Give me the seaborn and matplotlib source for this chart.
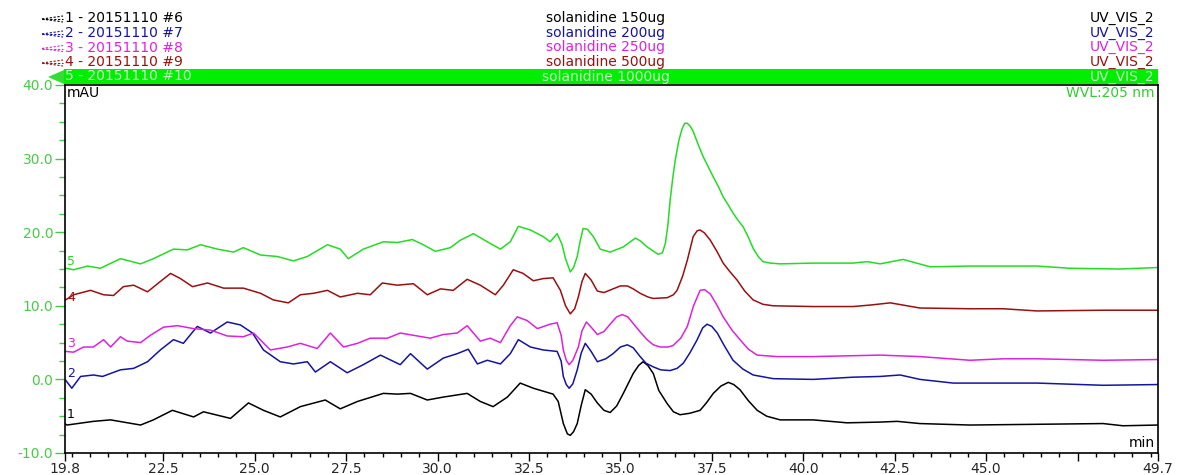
import numpy as np
import pandas as pd
import matplotlib
matplotlib.use("Agg")
import matplotlib.pyplot as plt
from matplotlib.lines import Line2D
from matplotlib.patches import Rectangle, Polygon
import seaborn as sns

# ---------------- data ----------------
t1 = [19.80, 19.87, 20.59, 21.06, 21.88, 22.23, 22.75, 23.33, 23.60, 24.34, 24.83, 25.24, 25.70,
      26.25, 26.93, 27.34, 27.81, 28.52, 28.90, 29.26, 29.72, 30.16, 30.81, 31.17, 31.52, 31.91,
      32.26, 32.62, 33.16, 33.30, 33.44, 33.55, 33.63, 33.72, 33.82, 33.93, 34.04, 34.20, 34.37,
      34.55, 34.72, 34.90, 35.08, 35.22, 35.35, 35.50, 35.62, 35.75, 35.90, 36.05, 36.28, 36.45,
      36.63, 36.90, 37.18, 37.35, 37.54, 37.75, 37.95, 38.10, 38.27, 38.50, 38.74, 39.00, 39.37,
      40.27, 41.20, 42.10, 42.57, 43.19, 44.56, 46.39, 48.20, 48.74, 49.70]
v1 = [-6.0, -6.2, -5.7, -5.5, -6.2, -5.5, -4.2, -5.1, -4.4, -5.3, -3.2, -4.2, -5.1,
      -3.7, -2.8, -4.0, -3.0, -1.9, -2.0, -1.9, -2.8, -2.4, -1.9, -3.0, -3.7, -2.4,
      -0.5, -1.2, -2.0, -3.0, -6.0, -7.4, -7.6, -7.1, -6.0, -3.5, -1.4, -2.0, -3.2,
      -4.2, -4.5, -3.6, -1.9, -0.5, 0.8, 1.9, 2.4, 1.9, 0.8, -1.5, -3.3, -4.4,
      -4.8, -4.6, -4.2, -3.2, -1.9, -0.9, -0.4, -0.7, -1.4, -2.9, -4.2, -5.0, -5.5,
      -5.5, -5.9, -5.8, -5.7, -6.0, -6.2, -6.1, -6.0, -6.3, -6.2]

t2 = [19.83, 20.00, 20.24, 20.59, 20.84, 21.33, 21.69, 22.07, 22.42, 22.78, 23.05, 23.43, 23.79,
      24.25, 24.61, 24.94, 25.24, 25.70, 26.06, 26.44, 26.66, 27.07, 27.53, 27.97, 28.44, 28.98,
      29.26, 29.72, 30.16, 30.54, 30.84, 31.09, 31.36, 31.72, 31.99, 32.21, 32.54, 32.89, 33.27,
      33.38, 33.44, 33.52, 33.60, 33.70, 33.82, 33.93, 34.04, 34.20, 34.37, 34.60, 34.80, 35.00,
      35.19, 35.35, 35.54, 35.70, 35.90, 36.10, 36.36, 36.55, 36.72, 36.90, 37.10, 37.25, 37.37,
      37.50, 37.65, 37.85, 38.08, 38.35, 38.63, 39.18, 40.27, 41.36, 42.10, 42.65, 43.19, 44.10,
      46.39, 48.20, 49.70]
v2 = [-0.1, -1.2, 0.4, 0.6, 0.4, 1.3, 1.5, 2.4, 4.0, 5.4, 4.9, 7.2, 6.3,
      7.8, 7.4, 6.3, 4.0, 2.4, 2.1, 2.4, 1.0, 2.4, 0.9, 2.0, 3.3, 2.0,
      3.5, 1.4, 2.9, 3.5, 4.1, 2.1, 2.6, 2.1, 3.5, 5.4, 4.4, 4.0, 3.8,
      2.5, 0.4, -0.7, -1.2, -0.6, 1.3, 3.6, 4.9, 3.8, 2.4, 2.8, 3.5, 4.4,
      4.7, 4.3, 3.1, 2.2, 1.7, 1.3, 1.2, 1.5, 2.2, 3.6, 5.4, 7.0, 7.5,
      7.2, 6.3, 4.5, 2.6, 1.4, 0.6, 0.1, 0.0, 0.3, 0.4, 0.6, 0.0, -0.5,
      -0.5, -0.8, -0.7]

t3 = [19.83, 20.05, 20.32, 20.59, 20.87, 21.06, 21.33, 21.52, 21.88, 22.15, 22.51, 22.89, 23.33,
      23.79, 24.25, 24.69, 24.97, 25.43, 25.89, 26.25, 26.71, 27.07, 27.43, 27.81, 28.16, 28.63,
      28.98, 29.45, 29.80, 30.16, 30.54, 30.81, 31.17, 31.44, 31.72, 31.99, 32.18, 32.45, 32.73,
      33.08, 33.27, 33.38, 33.44, 33.52, 33.60, 33.70, 33.85, 33.95, 34.07, 34.20, 34.37, 34.55,
      34.72, 34.90, 35.05, 35.20, 35.35, 35.55, 35.73, 35.90, 36.09, 36.30, 36.44, 36.65, 36.83,
      37.00, 37.18, 37.30, 37.46, 37.65, 37.81, 38.05, 38.27, 38.50, 38.74, 39.29, 40.27, 42.10,
      43.19, 44.56, 45.46, 46.39, 48.20, 49.70]
v3 = [3.8, 3.7, 4.4, 4.4, 5.4, 4.4, 5.8, 5.2, 5.0, 6.0, 7.1, 7.3, 6.9,
      6.7, 5.9, 5.8, 6.3, 4.0, 4.4, 4.9, 4.2, 6.3, 4.4, 4.9, 5.6, 5.6,
      6.3, 5.9, 5.6, 6.1, 6.3, 7.3, 5.2, 5.6, 5.0, 7.3, 8.5, 8.0, 6.9,
      7.5, 7.7, 6.0, 4.0, 2.6, 2.0, 2.6, 4.4, 6.6, 7.8, 7.1, 6.1, 6.5,
      7.5, 8.5, 8.8, 8.5, 7.6, 6.4, 5.4, 4.7, 4.4, 4.4, 4.6, 5.6, 7.2,
      10.0, 12.1, 12.2, 11.6, 10.0, 8.5, 6.7, 5.4, 4.1, 3.3, 3.1, 3.1, 3.3,
      3.1, 2.6, 2.8, 2.8, 2.6, 2.7]

t4 = [19.83, 20.05, 20.51, 20.87, 21.14, 21.41, 21.69, 22.07, 22.42, 22.70, 22.97, 23.30, 23.71,
      24.15, 24.69, 25.16, 25.51, 25.92, 26.25, 26.61, 26.99, 27.34, 27.81, 28.16, 28.49, 28.90,
      29.34, 29.72, 30.08, 30.43, 30.81, 31.17, 31.58, 31.80, 32.07, 32.34, 32.62, 32.89, 33.16,
      33.36, 33.50, 33.63, 33.75, 33.85, 33.95, 34.04, 34.20, 34.37, 34.55, 34.80, 35.00, 35.19,
      35.35, 35.54, 35.75, 35.90, 36.28, 36.45, 36.55, 36.70, 36.83, 36.99, 37.10, 37.18, 37.30,
      37.46, 37.65, 37.81, 38.00, 38.19, 38.40, 38.63, 38.90, 39.18, 40.27, 41.36, 41.83, 42.38,
      43.19, 44.56, 45.46, 46.39, 48.20, 49.70]
v4 = [10.8, 11.5, 12.1, 11.5, 11.4, 12.6, 12.8, 11.9, 13.3, 14.4, 13.7, 12.6, 13.1,
      12.4, 12.4, 11.7, 10.8, 10.4, 11.5, 11.7, 12.1, 11.2, 11.7, 11.5, 13.1, 12.8,
      13.0, 11.5, 12.3, 12.1, 13.6, 12.8, 11.5, 12.8, 14.9, 14.4, 13.4, 13.7, 13.8,
      12.1, 10.0, 8.9, 9.6, 11.2, 13.3, 14.4, 13.5, 12.0, 11.8, 12.3, 12.7, 12.7,
      12.3, 11.7, 11.2, 11.0, 11.1, 11.5, 12.1, 14.0, 16.2, 19.4, 20.2, 20.3, 19.9,
      18.9, 17.3, 15.8, 14.6, 13.5, 12.0, 10.8, 10.2, 10.0, 9.9, 9.9, 10.1, 10.4,
      9.7, 9.6, 9.6, 9.3, 9.4, 9.4]

t5 = [19.83, 20.05, 20.43, 20.78, 21.33, 21.88, 22.23, 22.78, 23.16, 23.52, 23.98, 24.42, 24.69,
      25.16, 25.62, 26.06, 26.44, 26.99, 27.34, 27.56, 27.97, 28.52, 28.90, 29.31, 29.61, 29.94,
      30.35, 30.62, 30.98, 31.36, 31.72, 31.99, 32.21, 32.54, 32.89, 33.08, 33.27, 33.40, 33.50,
      33.63, 33.72, 33.82, 33.90, 33.98, 34.10, 34.26, 34.45, 34.72, 35.08, 35.41, 35.55, 35.73,
      36.03, 36.15, 36.23, 36.30, 36.36, 36.43, 36.50, 36.60, 36.69, 36.76, 36.83, 36.91, 36.99,
      37.12, 37.26, 37.40, 37.54, 37.68, 37.81, 37.95, 38.08, 38.22, 38.36, 38.50, 38.63, 38.77,
      38.90, 39.10, 39.37, 40.27, 41.36, 41.75, 42.10, 42.73, 43.47, 44.56, 46.39, 47.29, 48.66,
      49.70]
v5 = [15.1, 14.9, 15.4, 15.1, 16.4, 15.7, 16.4, 17.7, 17.6, 18.3, 17.7, 17.3, 17.9,
      16.9, 16.7, 16.1, 16.7, 18.3, 17.7, 16.4, 17.7, 18.7, 18.6, 19.0, 18.3, 17.4,
      17.9, 18.9, 19.8, 18.7, 17.7, 18.7, 20.8, 20.3, 19.4, 18.7, 19.8, 18.4, 16.4,
      14.6, 15.2, 16.7, 18.8, 20.5, 20.4, 19.4, 17.7, 17.3, 18.0, 19.2, 18.8, 18.0,
      17.0, 17.2, 18.5, 21.0, 24.3, 27.3, 29.8, 32.5, 34.1, 34.8, 34.8, 34.4, 33.7,
      32.0, 30.3, 28.9, 27.5, 26.2, 24.8, 23.7, 22.6, 21.6, 20.7, 19.3, 17.8, 16.7,
      16.0, 15.8, 15.7, 15.8, 15.8, 16.0, 15.7, 16.3, 15.3, 15.4, 15.4, 15.1, 15.0,
      15.2]

trace_ids = ["1", "2", "3", "4", "5"]
runs = ["20151110 #6", "20151110 #7", "20151110 #8", "20151110 #9", "20151110 #10"]
samples = ["solanidine 150ug", "solanidine 200ug", "solanidine 250ug",
           "solanidine 500ug", "solanidine 1000ug"]
channel = "UV_VIS_2"
label_y = [-4.8, 0.8, 4.9, 11.1, 16.0]

xtick_vals = [19.8, 22.5, 25.0, 27.5, 30.0, 32.5, 35.0, 37.5, 40.0, 42.5, 45.0, 47.5, 49.7]
xtick_labels = ["19.8", "22.5", "25.0", "27.5", "30.0", "32.5", "35.0", "37.5", "40.0",
                "42.5", "45.0", "", "49.7"]
ytick_vals = [-10, 0, 10, 20, 30, 40]

colors = ["#000000", "#1414a0", "#dd22dd", "#9a1010", "#22dd22"]
tick_green = "#44cc44"

# ---------------- figure ----------------
sns.set_style("white")
plt.rcParams["font.family"] = ["DejaVu Sans"]

W, H = 1177, 475
fig = plt.figure(figsize=(W / 100, H / 100), dpi=100)

def fx(px):
    return px / W

def fy(py):
    return 1 - py / H

ax = fig.add_axes([fx(64.5), fy(453), fx(1158) - fx(64.5), fy(85) - fy(453)])

series = [(t1, v1), (t2, v2), (t3, v3), (t4, v4), (t5, v5)]
for (tt, vv), c in zip(series, colors):
    df = pd.DataFrame({"t": tt, "v": vv})
    sns.lineplot(data=df, x="t", y="v", ax=ax, color=c, lw=1.1, sort=False,
                 estimator=None, legend=False)

for i, c in enumerate(colors):
    ax.text(19.87, label_y[i], trace_ids[i], color=c, fontsize=9, ha="left", va="center")

ax.set_xlim(19.8, 49.7)
ax.set_ylim(-10, 40)
ax.set_xlabel("")
ax.set_ylabel("")

ax.set_xticks(xtick_vals)
ax.set_xticklabels(xtick_labels)
ax.set_xticks(np.arange(20.0, 49.6, 0.5), minor=True)
ax.set_yticks(ytick_vals)
ax.set_yticklabels([f"{v:.1f}" for v in ytick_vals])
ax.set_yticks(np.arange(-10, 40.1, 2.5), minor=True)

ax.tick_params(axis="x", which="major", direction="out", length=6, width=1.0,
               color="black", labelsize=10, pad=0.5, bottom=True)
ax.tick_params(axis="x", which="minor", direction="out", length=3, width=1.0,
               color="black", bottom=True)
ax.tick_params(axis="y", which="major", direction="out", length=7, width=1.0,
               color=tick_green, labelcolor=tick_green, labelsize=10, pad=1, left=True)
ax.tick_params(axis="y", which="minor", direction="out", length=4, width=1.0,
               color=tick_green, left=True)
for s in ax.spines.values():
    s.set_color("black")
    s.set_linewidth(1.2)
ax.grid(False)

ax.text(0.002, 0.997, "mAU", transform=ax.transAxes, ha="left", va="top", fontsize=10,
        color="black")
ax.text(0.997, 0.997, "WVL:205 nm", transform=ax.transAxes, ha="right", va="top",
        fontsize=10, color="#33cc33")
ax.text(0.997, 0.008, "min", transform=ax.transAxes, ha="right", va="bottom", fontsize=10,
        color="black")

# ---------------- header ----------------
row_y = [18, 33, 47.5, 62, 76.5]
fig.patches.append(Rectangle((fx(64), fy(84)), fx(1158) - fx(64), fy(69) - fy(84),
                             transform=fig.transFigure, facecolor="#00ee00",
                             edgecolor="none", zorder=0))
fig.patches.append(Polygon([(fx(48), fy(77)), (fx(64), fy(70)), (fx(64), fy(84))],
                           closed=True, transform=fig.transFigure, facecolor="#33dd33",
                           edgecolor="none"))
for i in range(5):
    y = row_y[i]
    c = colors[i] if i < 4 else "#c8f5c8"
    if i < 4:
        for dy in (-3, 0, 3):
            fig.lines.append(Line2D([fx(42), fx(63)], [fy(y + 1), fy(y + 1 + dy)],
                                    transform=fig.transFigure, color=colors[i], lw=0.8,
                                    ls=(0, (2, 1.5))))
    fig.text(fx(65), fy(y), f"{trace_ids[i]} - {runs[i]}", color=c, fontsize=10,
             ha="left", va="center")
    fig.text(fx(606), fy(y), samples[i], color=c, fontsize=10, ha="center", va="center")
    fig.text(fx(1154), fy(y), channel, color=c, fontsize=10, ha="right", va="center")

fig.savefig("out.png", dpi=100)
